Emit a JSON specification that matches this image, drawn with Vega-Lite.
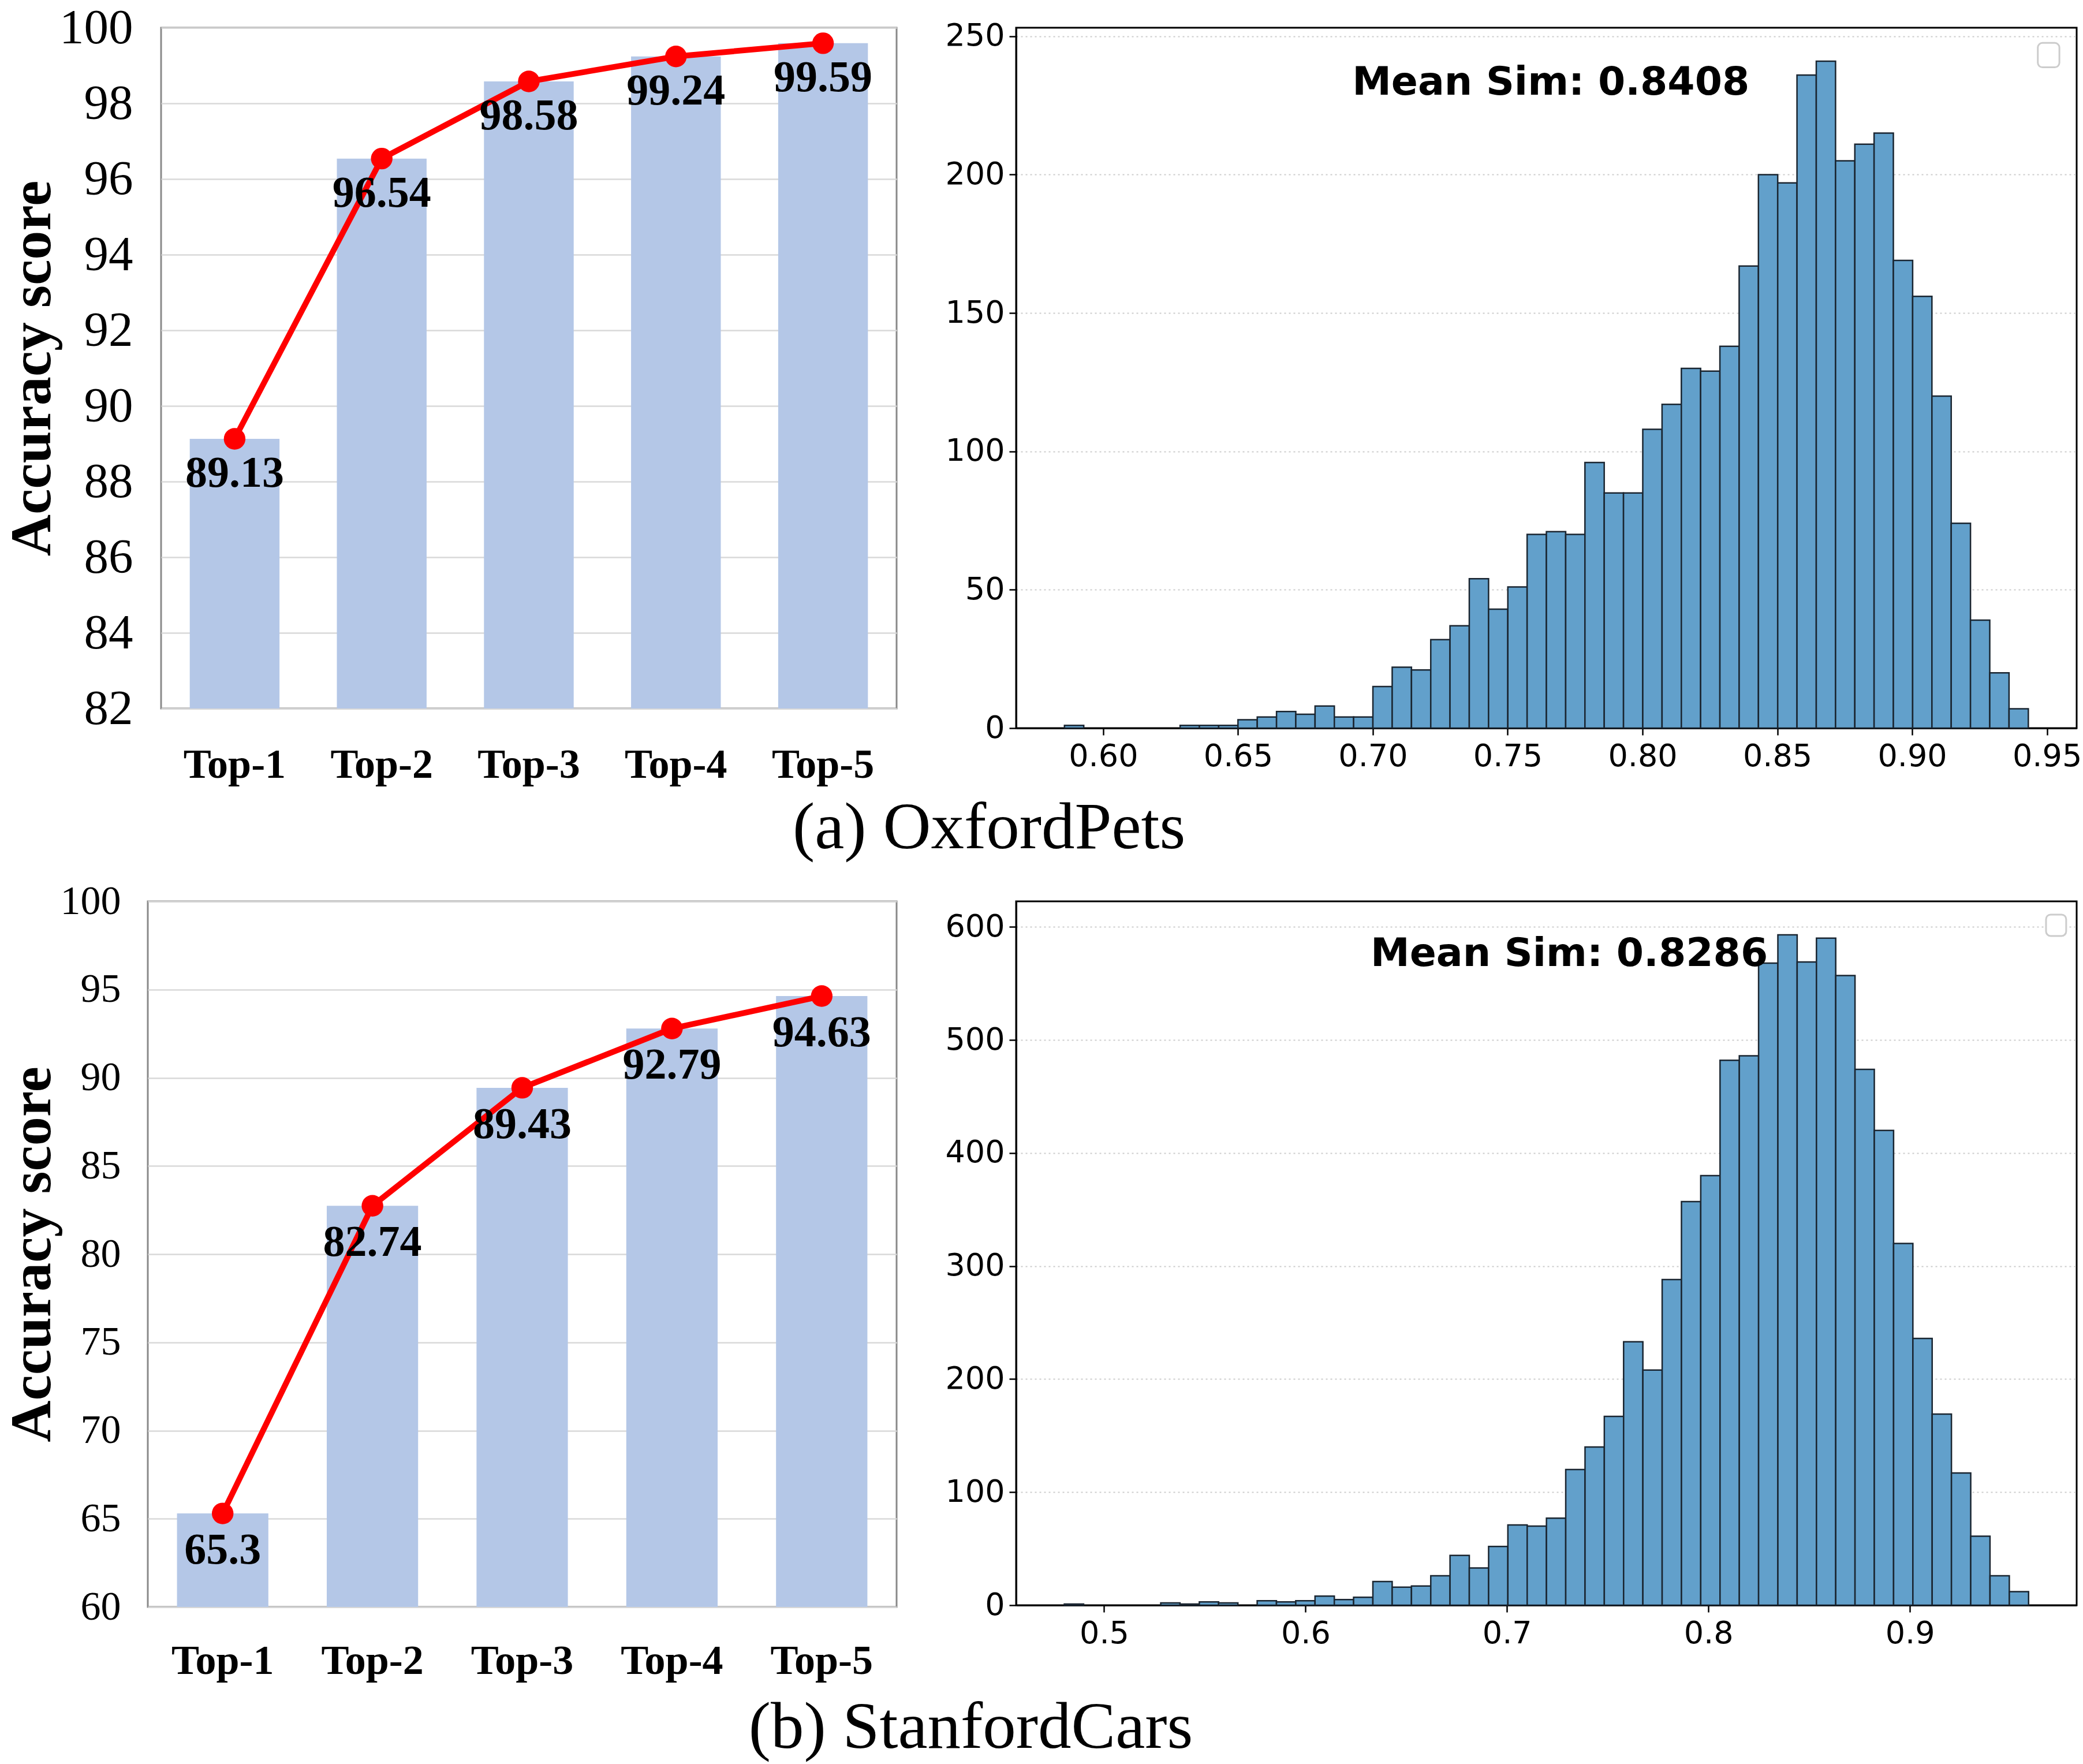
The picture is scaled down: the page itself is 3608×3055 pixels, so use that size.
{
  "$schema": "https://vega.github.io/schema/vega-lite/v6.json",
  "background": "white",
  "padding": {"left": 4, "top": 4, "right": 0, "bottom": 4},
  "config": {
    "axis": {"labelColor": "black", "titleColor": "black"},
    "title": {"color": "black"}
  },
  "datasets": {
    "accA": [
      {"k": "Top-1", "acc": 89.13},
      {"k": "Top-2", "acc": 96.54},
      {"k": "Top-3", "acc": 98.58},
      {"k": "Top-4", "acc": 99.24},
      {"k": "Top-5", "acc": 99.59}
    ],
    "accB": [
      {"k": "Top-1", "acc": 65.3},
      {"k": "Top-2", "acc": 82.74},
      {"k": "Top-3", "acc": 89.43},
      {"k": "Top-4", "acc": 92.79},
      {"k": "Top-5", "acc": 94.63}
    ],
    "histA": [
      {"bin_start": 0.58564, "bin_end": 0.59279, "count": 1},
      {"bin_start": 0.62853, "bin_end": 0.63568, "count": 1},
      {"bin_start": 0.63568, "bin_end": 0.64283, "count": 1},
      {"bin_start": 0.64283, "bin_end": 0.64998, "count": 1},
      {"bin_start": 0.64998, "bin_end": 0.65713, "count": 3},
      {"bin_start": 0.65713, "bin_end": 0.66428, "count": 4},
      {"bin_start": 0.66428, "bin_end": 0.67142, "count": 6},
      {"bin_start": 0.67142, "bin_end": 0.67857, "count": 5},
      {"bin_start": 0.67857, "bin_end": 0.68572, "count": 8},
      {"bin_start": 0.68572, "bin_end": 0.69287, "count": 4},
      {"bin_start": 0.69287, "bin_end": 0.70002, "count": 4},
      {"bin_start": 0.70002, "bin_end": 0.70717, "count": 15},
      {"bin_start": 0.70717, "bin_end": 0.71432, "count": 22},
      {"bin_start": 0.71432, "bin_end": 0.72147, "count": 21},
      {"bin_start": 0.72147, "bin_end": 0.72861, "count": 32},
      {"bin_start": 0.72861, "bin_end": 0.73576, "count": 37},
      {"bin_start": 0.73576, "bin_end": 0.74291, "count": 54},
      {"bin_start": 0.74291, "bin_end": 0.75006, "count": 43},
      {"bin_start": 0.75006, "bin_end": 0.75721, "count": 51},
      {"bin_start": 0.75721, "bin_end": 0.76436, "count": 70},
      {"bin_start": 0.76436, "bin_end": 0.77151, "count": 71},
      {"bin_start": 0.77151, "bin_end": 0.77865, "count": 70},
      {"bin_start": 0.77865, "bin_end": 0.7858, "count": 96},
      {"bin_start": 0.7858, "bin_end": 0.79295, "count": 85},
      {"bin_start": 0.79295, "bin_end": 0.8001, "count": 85},
      {"bin_start": 0.8001, "bin_end": 0.80725, "count": 108},
      {"bin_start": 0.80725, "bin_end": 0.8144, "count": 117},
      {"bin_start": 0.8144, "bin_end": 0.82155, "count": 130},
      {"bin_start": 0.82155, "bin_end": 0.8287, "count": 129},
      {"bin_start": 0.8287, "bin_end": 0.83584, "count": 138},
      {"bin_start": 0.83584, "bin_end": 0.84299, "count": 167},
      {"bin_start": 0.84299, "bin_end": 0.85014, "count": 200},
      {"bin_start": 0.85014, "bin_end": 0.85729, "count": 197},
      {"bin_start": 0.85729, "bin_end": 0.86444, "count": 236},
      {"bin_start": 0.86444, "bin_end": 0.87159, "count": 241},
      {"bin_start": 0.87159, "bin_end": 0.87874, "count": 205},
      {"bin_start": 0.87874, "bin_end": 0.88588, "count": 211},
      {"bin_start": 0.88588, "bin_end": 0.89303, "count": 215},
      {"bin_start": 0.89303, "bin_end": 0.90018, "count": 169},
      {"bin_start": 0.90018, "bin_end": 0.90733, "count": 156},
      {"bin_start": 0.90733, "bin_end": 0.91448, "count": 120},
      {"bin_start": 0.91448, "bin_end": 0.92163, "count": 74},
      {"bin_start": 0.92163, "bin_end": 0.92878, "count": 39},
      {"bin_start": 0.92878, "bin_end": 0.93593, "count": 20},
      {"bin_start": 0.93593, "bin_end": 0.94308, "count": 7}
    ],
    "histB": [
      {"bin_start": 0.48024, "bin_end": 0.48981, "count": 1},
      {"bin_start": 0.52811, "bin_end": 0.53768, "count": 2},
      {"bin_start": 0.53768, "bin_end": 0.54726, "count": 1},
      {"bin_start": 0.54726, "bin_end": 0.55683, "count": 3},
      {"bin_start": 0.55683, "bin_end": 0.56641, "count": 2},
      {"bin_start": 0.57598, "bin_end": 0.58555, "count": 4},
      {"bin_start": 0.58555, "bin_end": 0.59513, "count": 3},
      {"bin_start": 0.59513, "bin_end": 0.6047, "count": 4},
      {"bin_start": 0.6047, "bin_end": 0.61428, "count": 8},
      {"bin_start": 0.61428, "bin_end": 0.62385, "count": 5},
      {"bin_start": 0.62385, "bin_end": 0.63342, "count": 7},
      {"bin_start": 0.63342, "bin_end": 0.643, "count": 21},
      {"bin_start": 0.643, "bin_end": 0.65257, "count": 16},
      {"bin_start": 0.65257, "bin_end": 0.66215, "count": 17},
      {"bin_start": 0.66215, "bin_end": 0.67172, "count": 26},
      {"bin_start": 0.67172, "bin_end": 0.68129, "count": 44},
      {"bin_start": 0.68129, "bin_end": 0.69087, "count": 33},
      {"bin_start": 0.69087, "bin_end": 0.70044, "count": 52},
      {"bin_start": 0.70044, "bin_end": 0.71002, "count": 71},
      {"bin_start": 0.71002, "bin_end": 0.71959, "count": 70},
      {"bin_start": 0.71959, "bin_end": 0.72916, "count": 77},
      {"bin_start": 0.72916, "bin_end": 0.73874, "count": 120},
      {"bin_start": 0.73874, "bin_end": 0.74831, "count": 140},
      {"bin_start": 0.74831, "bin_end": 0.75789, "count": 167},
      {"bin_start": 0.75789, "bin_end": 0.76746, "count": 233},
      {"bin_start": 0.76746, "bin_end": 0.77703, "count": 208},
      {"bin_start": 0.77703, "bin_end": 0.78661, "count": 288},
      {"bin_start": 0.78661, "bin_end": 0.79618, "count": 357},
      {"bin_start": 0.79618, "bin_end": 0.80576, "count": 380},
      {"bin_start": 0.80576, "bin_end": 0.81533, "count": 482},
      {"bin_start": 0.81533, "bin_end": 0.8249, "count": 486},
      {"bin_start": 0.8249, "bin_end": 0.83448, "count": 568},
      {"bin_start": 0.83448, "bin_end": 0.84405, "count": 593},
      {"bin_start": 0.84405, "bin_end": 0.85363, "count": 569},
      {"bin_start": 0.85363, "bin_end": 0.8632, "count": 590},
      {"bin_start": 0.8632, "bin_end": 0.87277, "count": 557},
      {"bin_start": 0.87277, "bin_end": 0.88235, "count": 474},
      {"bin_start": 0.88235, "bin_end": 0.89192, "count": 420},
      {"bin_start": 0.89192, "bin_end": 0.9015, "count": 320},
      {"bin_start": 0.9015, "bin_end": 0.91107, "count": 236},
      {"bin_start": 0.91107, "bin_end": 0.92064, "count": 169},
      {"bin_start": 0.92064, "bin_end": 0.93022, "count": 117},
      {"bin_start": 0.93022, "bin_end": 0.93979, "count": 61},
      {"bin_start": 0.93979, "bin_end": 0.94937, "count": 26},
      {"bin_start": 0.94937, "bin_end": 0.95894, "count": 12}
    ]
  },
  "columns": 1,
  "align": "none",
  "spacing": 32,
  "concat": [
    {
      "bounds": "flush",
      "spacing": 207,
      "title": {"text": "(a) OxfordPets", "orient": "bottom", "anchor": "middle", "font": "Liberation Serif", "fontSize": 115, "fontWeight": "normal", "color": "black", "offset": 16, "dx": -93},
      "hconcat": [
        {
          "width": 24,
          "height": 10,
          "view": {"stroke": null},
          "data": {"values": [{}]},
          "mark": {"type": "point", "opacity": 0}
        },
        {
          "width": 1274,
          "height": 1179,
          "view": {"stroke": "#898989", "strokeWidth": 3},
          "data": {"name": "accA"},
          "encoding": {
            "x": {"field": "k", "type": "nominal", "sort": null,
              "scale": {"paddingInner": 0.39, "paddingOuter": 0.195},
              "axis": {"title": null, "labelAngle": 0, "labelFont": "Liberation Serif", "labelFontWeight": "bold", "labelFontSize": 72, "labelPadding": 62, "ticks": false, "domain": false, "grid": false}},
            "y": {"field": "acc", "type": "quantitative",
              "scale": {"domain": [82, 100], "nice": false, "zero": false},
              "axis": {"values": [82, 84, 86, 88, 90, 92, 94, 96, 98, 100], "title": "Accuracy score", "titleFont": "Liberation Serif", "titleFontWeight": "bold", "titleFontSize": 100, "titlePadding": -5,
                "labelFont": "Liberation Serif", "labelFontSize": 85, "labelPadding": 49, "ticks": false, "domain": false,
                "grid": true, "gridColor": "#d9d9d9", "gridWidth": 2.5}}
          },
          "layer": [
            {"mark": {"type": "bar", "color": "#b4c7e7"}, "encoding": {"y2": {"datum": 82}}},
            {"mark": {"type": "line", "color": "#ff0000", "strokeWidth": 10}},
            {"mark": {"type": "point", "filled": true, "color": "#ff0000", "size": 1400, "opacity": 1}},
            {"mark": {"type": "text", "font": "Liberation Serif", "fontWeight": "bold", "fontSize": 76, "dy": 60, "baseline": "middle", "color": "black"},
              "encoding": {"text": {"field": "acc", "type": "nominal"}}}
          ]
        },
        {
          "width": 1837,
          "height": 1213,
          "view": {"stroke": "black", "strokeWidth": 3},
          "layer": [
            {
              "data": {"name": "histA"},
              "mark": {"type": "rect", "fill": "#62a0cb", "stroke": "#1a2530", "strokeWidth": 2.5},
              "encoding": {
                "x": {"field": "bin_start", "type": "quantitative",
                  "scale": {"domain": [0.5677, 0.961], "nice": false, "zero": false},
                  "axis": {"title": null, "values": [0.6, 0.65, 0.7, 0.75, 0.8, 0.85, 0.9, 0.95], "format": ".2f", "labelFont": "DejaVu Sans", "labelFontSize": 54, "labelPadding": 10, "labelFlush": false, "labelOverlap": false, "tickColor": "black", "tickSize": 12, "tickWidth": 2.5, "domainColor": "black", "domainWidth": 3, "grid": false}},
                "x2": {"field": "bin_end"},
                "y": {"field": "count", "type": "quantitative",
                  "scale": {"domain": [0, 253.1], "nice": false},
                  "axis": {"title": null, "values": [0, 50, 100, 150, 200, 250], "labelFont": "DejaVu Sans", "labelFontSize": 54, "labelPadding": 8, "labelOverlap": false, "tickColor": "black", "tickSize": 12, "tickWidth": 2.5, "domainColor": "black", "domainWidth": 3,
                    "grid": true, "gridColor": "#cccccc", "gridDash": [3, 5], "gridWidth": 2}},
                "y2": {"datum": 0}
              }
            },
            {
              "data": {"values": [{}]},
              "mark": {"type": "text", "text": "Mean Sim: 0.8408", "font": "DejaVu Sans", "fontWeight": "bold", "fontSize": 68, "align": "center", "baseline": "middle", "color": "black"},
              "encoding": {"x": {"datum": 0.766, "type": "quantitative"}, "y": {"datum": 233, "type": "quantitative"}}
            },
            {
              "data": {"values": [{}]},
              "mark": {"type": "rect", "fill": "white", "stroke": "#cccccc", "strokeWidth": 3, "cornerRadius": 8},
              "encoding": {"x": {"datum": 0.9466, "type": "quantitative"}, "x2": {"datum": 0.9546}, "y": {"datum": 247.6, "type": "quantitative"}, "y2": {"datum": 238.8}}
            }
          ]
        }
      ]
    },
    {
      "bounds": "flush",
      "spacing": 207,
      "title": {"text": "(b) StanfordCars", "orient": "bottom", "anchor": "middle", "font": "Liberation Serif", "fontSize": 115, "fontWeight": "normal", "color": "black", "offset": 22, "dx": -120},
      "hconcat": [
        {
          "width": 1,
          "height": 10,
          "view": {"stroke": null},
          "data": {"values": [{}]},
          "mark": {"type": "point", "opacity": 0}
        },
        {
          "width": 1297,
          "height": 1222,
          "view": {"stroke": "#898989", "strokeWidth": 3},
          "data": {"name": "accB"},
          "encoding": {
            "x": {"field": "k", "type": "nominal", "sort": null,
              "scale": {"paddingInner": 0.39, "paddingOuter": 0.195},
              "axis": {"title": null, "labelAngle": 0, "labelFont": "Liberation Serif", "labelFontWeight": "bold", "labelFontSize": 72, "labelPadding": 58, "ticks": false, "domain": false, "grid": false}},
            "y": {"field": "acc", "type": "quantitative",
              "scale": {"domain": [60, 100], "nice": false, "zero": false},
              "axis": {"values": [60, 65, 70, 75, 80, 85, 90, 95, 100], "title": "Accuracy score", "titleFont": "Liberation Serif", "titleFontWeight": "bold", "titleFontSize": 100, "titlePadding": -3,
                "labelFont": "Liberation Serif", "labelFontSize": 70, "labelPadding": 47, "ticks": false, "domain": false,
                "grid": true, "gridColor": "#d9d9d9", "gridWidth": 2.5}}
          },
          "layer": [
            {"mark": {"type": "bar", "color": "#b4c7e7"}, "encoding": {"y2": {"datum": 60}}},
            {"mark": {"type": "line", "color": "#ff0000", "strokeWidth": 10}},
            {"mark": {"type": "point", "filled": true, "color": "#ff0000", "size": 1400, "opacity": 1}},
            {"mark": {"type": "text", "font": "Liberation Serif", "fontWeight": "bold", "fontSize": 76, "dy": 64, "baseline": "middle", "color": "black"},
              "encoding": {"text": {"field": "acc", "type": "nominal"}}}
          ]
        },
        {
          "width": 1837,
          "height": 1219,
          "view": {"stroke": "black", "strokeWidth": 3},
          "layer": [
            {
              "data": {"name": "histB"},
              "mark": {"type": "rect", "fill": "#62a0cb", "stroke": "#1a2530", "strokeWidth": 2.5},
              "encoding": {
                "x": {"field": "bin_start", "type": "quantitative",
                  "scale": {"domain": [0.4563, 0.9828], "nice": false, "zero": false},
                  "axis": {"title": null, "values": [0.5, 0.6, 0.7, 0.8, 0.9], "format": ".1f", "labelFont": "DejaVu Sans", "labelFontSize": 54, "labelPadding": 10, "labelFlush": false, "labelOverlap": false, "tickColor": "black", "tickSize": 12, "tickWidth": 2.5, "domainColor": "black", "domainWidth": 3, "grid": false}},
                "x2": {"field": "bin_end"},
                "y": {"field": "count", "type": "quantitative",
                  "scale": {"domain": [0, 622.6], "nice": false},
                  "axis": {"title": null, "values": [0, 100, 200, 300, 400, 500, 600], "labelFont": "DejaVu Sans", "labelFontSize": 54, "labelPadding": 8, "labelOverlap": false, "tickColor": "black", "tickSize": 12, "tickWidth": 2.5, "domainColor": "black", "domainWidth": 3,
                    "grid": true, "gridColor": "#cccccc", "gridDash": [3, 5], "gridWidth": 2}},
                "y2": {"datum": 0}
              }
            },
            {
              "data": {"values": [{}]},
              "mark": {"type": "text", "text": "Mean Sim: 0.8286", "font": "DejaVu Sans", "fontWeight": "bold", "fontSize": 68, "align": "center", "baseline": "middle", "color": "black"},
              "encoding": {"x": {"datum": 0.7309, "type": "quantitative"}, "y": {"datum": 575.6, "type": "quantitative"}}
            },
            {
              "data": {"values": [{}]},
              "mark": {"type": "rect", "fill": "white", "stroke": "#cccccc", "strokeWidth": 3, "cornerRadius": 8},
              "encoding": {"x": {"datum": 0.9676, "type": "quantitative"}, "x2": {"datum": 0.9776}, "y": {"datum": 610.9, "type": "quantitative"}, "y2": {"datum": 592.0}}
            }
          ]
        }
      ]
    }
  ]
}
